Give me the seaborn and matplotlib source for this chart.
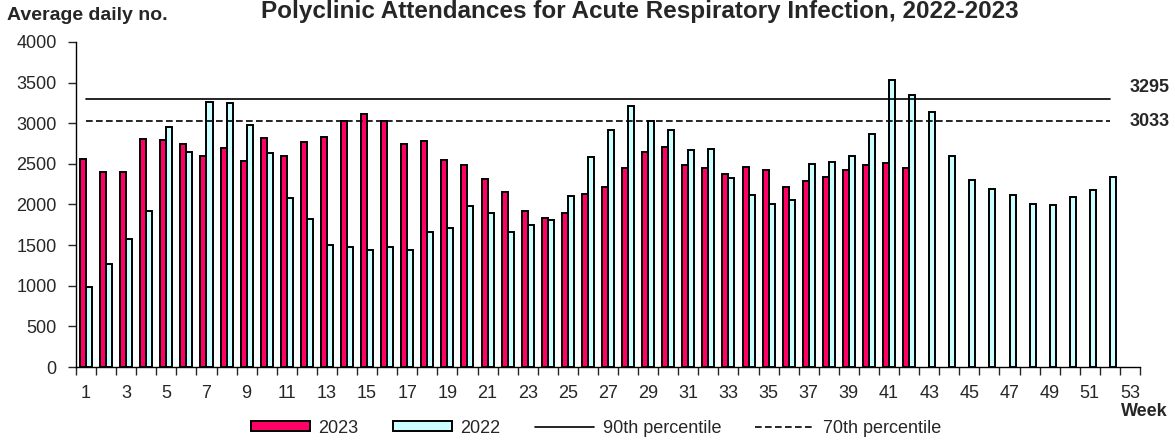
import matplotlib
matplotlib.use("Agg")
import matplotlib.pyplot as plt
from matplotlib.patches import Patch
from matplotlib.lines import Line2D
import numpy as np
import pandas as pd
import seaborn as sns

# data
weeks = list(range(1, 54))
attend_2023 = [2564, 2399, 2400, 2806, 2794, 2744, 2593, 2695, 2535, 2823,
               2593, 2773, 2827, 3028, 3115, 3028, 2740, 2786, 2551, 2481,
               2309, 2152, 1918, 1831, 1893, 2128, 2210, 2453, 2650, 2704,
               2481, 2453, 2379, 2457, 2428, 2214, 2292, 2337, 2420, 2486,
               2514, 2449]
attend_2022 = [984, 1268, 1577, 1917, 2951, 2650, 3259, 3251, 2984, 2630,
               2074, 1823, 1502, 1473, 1444, 1473, 1436, 1666, 1711, 1979,
               1893, 1658, 1749, 1811, 2099, 2580, 2914, 3218, 3029, 2914,
               2671, 2679, 2329, 2123, 2004, 2058, 2502, 2523, 2593, 2872,
               3530, 3346, 3144, 2593, 2296, 2189, 2115, 2012, 1992, 2095,
               2173, 2337]
p90 = 3295
p70 = 3033
years = ["2023", "2022"]
colors = ["#FF0066", "#CCFFFF"]

df = pd.concat([
    pd.DataFrame({"week": weeks[:len(attend_2023)], "value": attend_2023, "year": "2023"}),
    pd.DataFrame({"week": weeks[:len(attend_2022)], "value": attend_2022, "year": "2022"}),
])

sns.set_style("white")
plt.rcParams["font.family"] = ["Liberation Sans", "DejaVu Sans"]

fig = plt.figure(figsize=(11.75, 4.44), dpi=100)
ax = fig.add_axes([76 / 1175, 1 - 367 / 444, (1140 - 76) / 1175, (367 - 42) / 444])

sns.barplot(data=df, x="week", y="value", hue="year", order=weeks,
            hue_order=years, palette=colors, width=0.6, dodge=True,
            edgecolor="black", linewidth=1.4, saturation=1, legend=False,
            ax=ax)

# percentile lines span week 1 .. week 52
xs = np.arange(len(attend_2022))
ax.plot(xs, [p90] * len(xs), color="black", lw=1.2)
ax.plot(xs, [p70] * len(xs), color="black", lw=1.2, dashes=(4, 2))

ax.set_xlim(-0.5, len(weeks) - 0.5)
ax.set_ylim(0, 4000)
ax.set_yticks(range(0, 4001, 500))
ax.tick_params(axis="y", labelsize=13, length=6, width=1, pad=8, direction="out", left=True)

# ticks between categories, labels on odd weeks
ax.set_xticks(np.arange(-0.5, len(weeks), 1))
ax.set_xticklabels([])
ax.set_xticks(np.arange(0, len(weeks), 2), minor=True)
ax.set_xticklabels([str(w) for w in weeks[::2]], minor=True)
ax.tick_params(axis="x", which="major", length=6, width=1, direction="out", bottom=True)
ax.tick_params(axis="x", which="minor", length=0, labelsize=13, pad=13)
ax.set_xlabel("")
ax.set_ylabel("")

for s in ["top", "right"]:
    ax.spines[s].set_visible(False)
for s in ["left", "bottom"]:
    ax.spines[s].set_color("black")
    ax.spines[s].set_linewidth(1)

fig.text(7 / 1175, 1 - 20 / 444, "Average daily no.", fontsize=14,
         fontweight="bold", va="baseline", ha="left")
fig.text(640 / 1175, 1 - 18 / 444,
         "Polyclinic Attendances for Acute Respiratory Infection, 2022-2023",
         fontsize=17.5, fontweight="bold", va="baseline", ha="center")
fig.text(1130 / 1175, 1 - 88 / 444, str(p90), fontsize=13, fontweight="bold", va="center", ha="left")
fig.text(1130 / 1175, 1 - 121 / 444, str(p70), fontsize=13, fontweight="bold", va="center", ha="left")
fig.text(1168 / 1175, 1 - 411 / 444, "Week", fontsize=13, fontweight="bold", va="center", ha="right")

handles = [
    Patch(facecolor=colors[0], edgecolor="black", linewidth=1.4, label="2023"),
    Patch(facecolor=colors[1], edgecolor="black", linewidth=1.4, label="2022"),
    Line2D([], [], color="black", lw=1.2, label="90th percentile"),
    Line2D([], [], color="black", lw=1.2, dashes=(4, 2), label="70th percentile"),
]
fig.legend(handles=handles, loc="center", bbox_to_anchor=(596 / 1175, 1 - 428 / 444),
           ncol=4, frameon=False, fontsize=13, handlelength=3.3, handleheight=0.5,
           handletextpad=0.45, columnspacing=1.9, borderaxespad=0, borderpad=0)

fig.savefig("out.png", dpi=100)
